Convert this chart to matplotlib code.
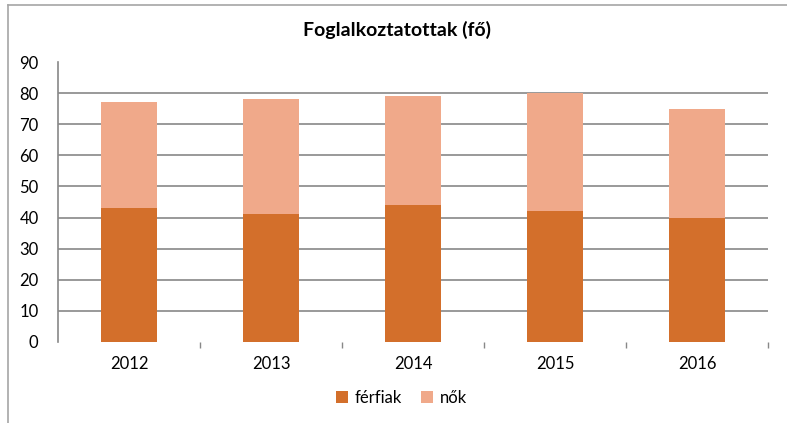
import numpy as np
import matplotlib
matplotlib.use("Agg")
import matplotlib.pyplot as plt
from matplotlib.lines import Line2D

plt.rcParams['font.family'] = ['Lato', 'DejaVu Sans']

years = ['2012', '2013', '2014', '2015', '2016']
ferfiak = [43, 41, 44, 42, 40]
nok = [34, 37, 35, 38, 35]

c_ferfi = '#D36F2B'
c_no = '#F0A98A'
grid_c = '#888888'

fig = plt.figure(figsize=(7.87, 4.23), dpi=100)
ax = fig.add_axes([58/787, 1-342/423, 710/787, 280/423])

x = np.arange(len(years))
ax.bar(x, ferfiak, width=0.4, color=c_ferfi, label='férfiak', zorder=2)
ax.bar(x, nok, width=0.4, bottom=ferfiak, color=c_no, label='nők', zorder=2)

ax.set_xlim(-0.5, len(years) - 0.5)
ax.set_ylim(0, 90)
ax.set_yticks(range(0, 91, 10))
ax.yaxis.grid(True, color=grid_c, linewidth=1.2, zorder=0)
# no gridline at the top (90) or at 0
gl = ax.get_ygridlines()
gl[-1].set_visible(False)
gl[0].set_visible(False)
ax.set_xticks(x)
ax.set_xticklabels(years)
ax.set_xticks(np.arange(0.5, len(years), 1), minor=True)
ax.tick_params(axis='x', which='major', length=0, pad=10, labelsize=12)
ax.tick_params(axis='x', which='minor', length=4, color=grid_c, width=1)
ax.tick_params(axis='y', length=0, pad=14, labelsize=12)

for s in ['top', 'right', 'bottom']:
    ax.spines[s].set_visible(False)
ax.spines['left'].set_color(grid_c)
ax.spines['left'].set_linewidth(1.2)

fig.text(0.505, 1-30/423, 'Foglalkoztatottak (fő)', ha='center', va='center',
         fontsize=14, fontweight='bold')

fig.legend(loc='center', bbox_to_anchor=(0.51, 1-398/423), ncol=2, frameon=False,
           fontsize=12, handlelength=0.7, handleheight=0.7, handletextpad=0.4,
           columnspacing=1.2)

# chart border (left and top)
fig.add_artist(Line2D([8/787, 1], [1-5/423, 1-5/423], color='#A6A6A6', linewidth=1.2))
fig.add_artist(Line2D([8/787, 8/787], [0, 1-5/423], color='#A6A6A6', linewidth=1.2))

fig.savefig('out.png', dpi=100)
